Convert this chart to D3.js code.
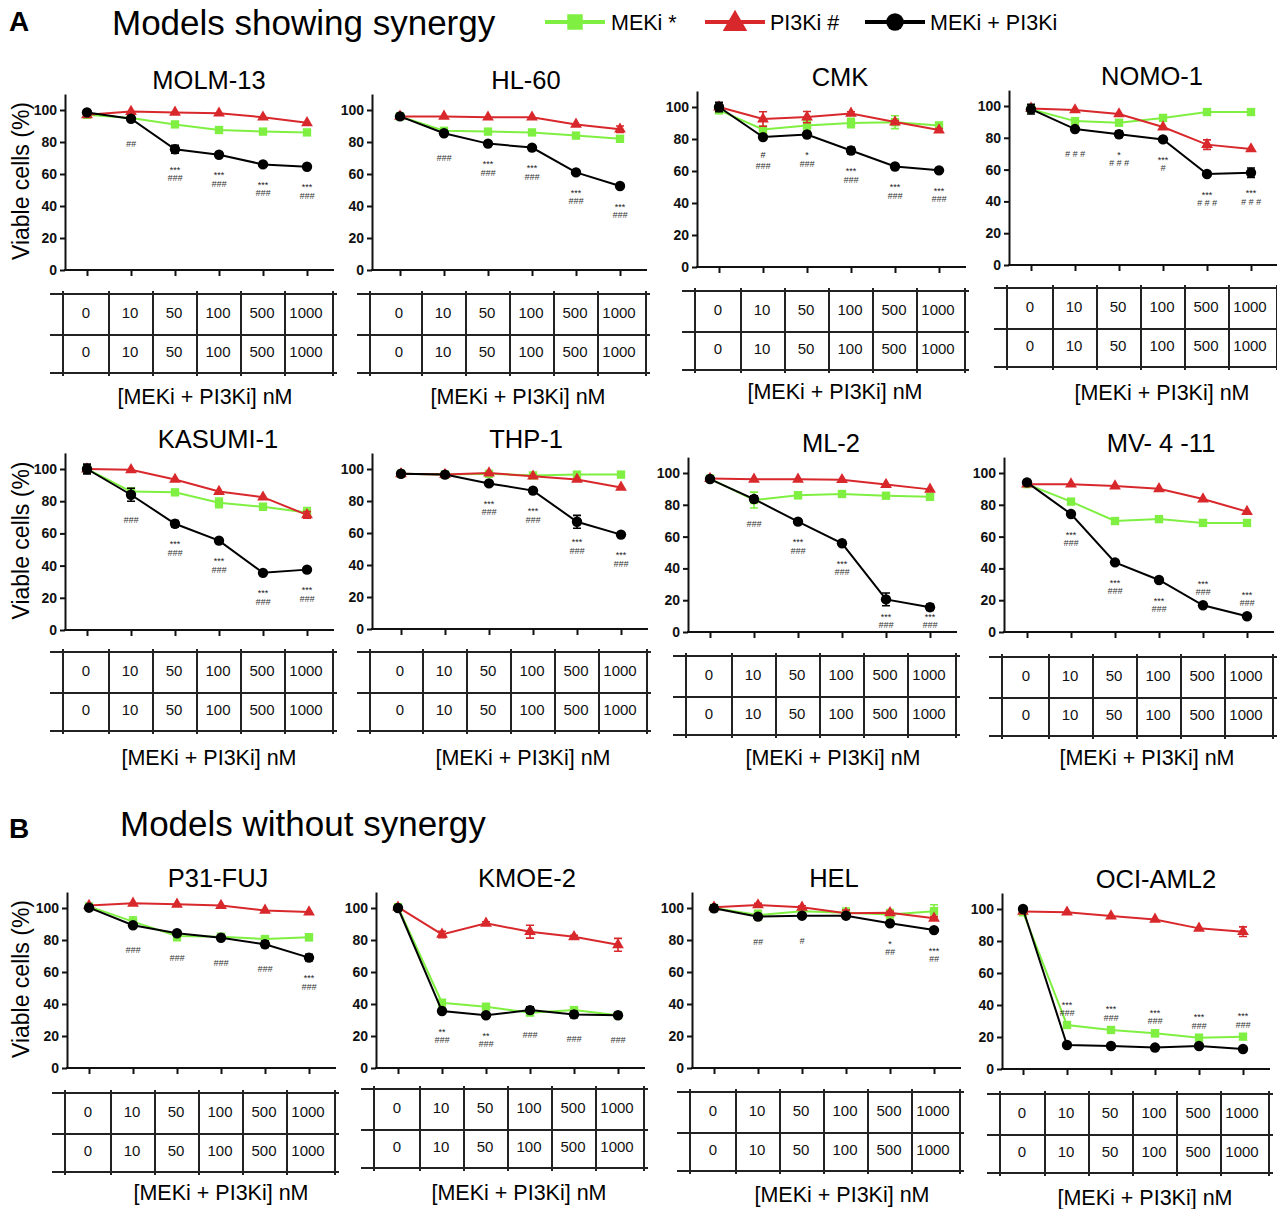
<!DOCTYPE html>
<html>
<head>
<meta charset="utf-8">
<script src="https://cdn.jsdelivr.net/npm/d3@7"></script>
<style>
  body { margin: 0; background: #fff; }
  svg { display: block; font-family: "Liberation Sans", Arial, sans-serif; }
</style>
</head>
<body>
<svg id="chart" width="1277" height="1209"></svg>
<script>
// ---- data ----
const doses = ["0", "10", "50", "100", "500", "1000"];
const yTicks = [0, 20, 40, 60, 80, 100];
const legendLabels = ["MEKi *", "PI3Ki #", "MEKi + PI3Ki"];
const sectionLetters = ["A", "B"];
const sectionTitles = ["Models showing synergy", "Models without synergy"];
const yLabel = "Viable cells (%)";
const xLabel = "[MEKi + PI3Ki] nM";

const cellLines = ["MOLM-13", "HL-60", "CMK", "NOMO-1",
                   "KASUMI-1", "THP-1", "ML-2", "MV- 4 -11",
                   "P31-FUJ", "KMOE-2", "HEL", "OCI-AML2"];

const mekiValues = [
  [97, 95, 91, 87.5, 86.5, 86],
  [96, 87, 86.5, 86, 84, 82],
  [98, 86, 88.5, 90, 90.5, 88.5],
  [98, 90.5, 89.5, 92.5, 96.2, 96.2],
  [100, 86, 85.5, 79, 76.5, 73],
  [97, 96.5, 97, 96, 96.5, 96.5],
  [96.5, 83, 86, 86.8, 85.7, 85],
  [93, 82, 69.8, 71, 68.6, 68.6],
  [101, 91.5, 82.5, 82, 80.6, 81.7],
  [100.5, 40.8, 38.3, 34.6, 36.2, 33],
  [100, 95.6, 98, 97, 96, 98],
  [98, 27.5, 24.4, 22.3, 19.6, 20.2]
];
const pi3kiValues = [
  [97, 99, 98.5, 98, 95.5, 92],
  [96, 96, 95.5, 95.5, 91, 88],
  [100, 92.5, 93.7, 96, 90.6, 85.6],
  [98.5, 97.5, 95, 86.8, 75.7, 73],
  [100, 99.5, 93.5, 86, 82.5, 71.5],
  [97, 96.5, 97.5, 95.5, 93.5, 88.5],
  [96.5, 96, 96, 95.8, 92.7, 89.7],
  [93, 93, 91.8, 90.1, 83.6, 75.7],
  [101.5, 102.9, 102.3, 101.5, 98.5, 97.5],
  [100.5, 83.5, 90.4, 85.2, 82, 77],
  [100.5, 101.9, 100.4, 96.7, 97, 93.6],
  [98.5, 98, 95.6, 93.5, 87.9, 85.8]
];
const comboValues = [
  [98.5, 94.5, 75.5, 72, 66, 64.5],
  [96, 85.5, 79, 76.5, 61, 52.5],
  [100, 81.2, 82.8, 72.8, 62.8, 60.4],
  [98, 85.5, 82.2, 79, 57.2, 58],
  [100, 84, 66, 55.5, 35.5, 37.5],
  [97, 96.5, 91, 86.5, 67, 59],
  [96.2, 83.6, 69.4, 55.8, 20.5, 15.6],
  [94.1, 74.2, 43.8, 32.7, 16.8, 9.9],
  [100.2, 89.2, 84.2, 81.4, 77.3, 69],
  [100, 35.6, 33, 36.2, 33.5, 33],
  [99.8, 94.6, 95.2, 95.2, 90.4, 86.2],
  [100, 15, 14.4, 13.4, 14.4, 12.5]
];

// standard errors (0 = bar hidden by the marker)
const mekiErr = [
  [0, 0, 0, 0, 0, 0], [0, 0, 0, 0, 0, 0], [2, 2, 3, 3, 4, 1], [2, 0, 0, 0, 2, 1],
  [0, 2, 1, 3, 2, 3], [0, 0, 0, 0, 0, 0], [0, 5, 2, 1, 1, 1], [0, 0, 0, 0, 0, 0],
  [1, 3, 3, 2, 2, 2], [0, 0, 0, 0, 0, 0], [0, 3, 1, 3, 3, 4], [0, 0, 0, 2, 1, 1]
];
const pi3kiErr = [
  [0, 0, 0, 0, 0, 0], [0, 0, 0, 0, 0, 2], [0, 4.5, 3.5, 1, 1, 1], [0, 0, 0, 0, 3, 0],
  [0, 0, 0, 0, 0, 2], [0, 0, 0, 0, 0, 0], [0, 0, 0, 0, 0, 0], [0, 0, 0, 0, 0, 0],
  [0, 0, 0, 0, 0, 0], [0, 2, 1, 4, 1, 4], [0, 1, 1, 2, 1, 1], [0, 0, 0, 0, 0, 3]
];
const comboErr = [
  [1, 0, 2.5, 0, 0, 0], [0, 0, 0, 0, 0, 0], [3, 1, 1, 2, 1, 0], [3, 1, 2, 1, 1, 3],
  [3, 4, 2, 0, 0, 0], [0, 0, 0, 0, 4, 1], [0, 2, 0, 0, 4, 2], [0, 0, 0, 0, 0, 0],
  [0, 1, 1, 1, 2, 2], [0, 0, 0, 2, 2, 0], [2, 0, 0, 0, 0, 0], [0, 0, 0, 0, 0, 0]
];

// significance marks: upper line (vs MEKi, *) and lower line (vs PI3Ki, #)
const upperMarks = [
  ["", "", "***", "***", "***", "***"],
  ["", "", "***", "***", "***", "***"],
  ["", "#", "*", "***", "***", "***"],
  ["", "", "*", "***", "***", "***"],
  ["", "", "***", "***", "***", "***"],
  ["", "", "***", "***", "***", "***"],
  ["", "", "***", "***", "***", "***"],
  ["", "***", "***", "***", "***", "***"],
  ["", "", "", "", "", "***"],
  ["", "**", "**", "", "", ""],
  ["", "", "", "", "*", "***"],
  ["", "***", "***", "***", "***", "***"]
];
const lowerMarks = [
  ["", "##", "###", "###", "###", "###"],
  ["", "###", "###", "###", "###", "###"],
  ["", "###", "###", "###", "###", "###"],
  ["", "# # #", "# # #", "#", "# # #", "# # #"],
  ["", "###", "###", "###", "###", "###"],
  ["", "", "###", "###", "###", "###"],
  ["", "###", "###", "###", "###", "###"],
  ["", "###", "###", "###", "###", "###"],
  ["", "###", "###", "###", "###", "###"],
  ["", "###", "###", "###", "###", "###"],
  ["", "##", "#", "", "##", "##"],
  ["", "###", "###", "###", "###", "###"]
];

// ---- layout (pixel geometry of each small panel) ----
const panelLayout = [
  {ax: 65,   t0: 87,   y0: 270,  y100: 110, n1: 313,  tx: 209,  lx: 205,  ly: 397},
  {ax: 372,  t0: 400,  y0: 270,  y100: 110, n1: 313,  tx: 526,  lx: 518,  ly: 397},
  {ax: 697,  t0: 719,  y0: 267,  y100: 107, n1: 310,  tx: 840,  lx: 835,  ly: 392},
  {ax: 1009, t0: 1031, y0: 265,  y100: 106, n1: 307,  tx: 1152, lx: 1162, ly: 393},
  {ax: 65,   t0: 87,   y0: 630,  y100: 469, n1: 671,  tx: 218,  lx: 209,  ly: 758},
  {ax: 372,  t0: 401,  y0: 629,  y100: 469, n1: 671,  tx: 526,  lx: 523,  ly: 758},
  {ax: 688,  t0: 710,  y0: 632,  y100: 473, n1: 675,  tx: 831,  lx: 833,  ly: 758},
  {ax: 1004, t0: 1027, y0: 632,  y100: 473, n1: 676,  tx: 1161, lx: 1147, ly: 758, aboveAt: [4, 5]},
  {ax: 67,   t0: 89,   y0: 1068, y100: 908, n1: 1112, tx: 218,  lx: 221,  ly: 1193},
  {ax: 376,  t0: 398,  y0: 1068, y100: 908, n1: 1108, tx: 527,  lx: 519,  ly: 1193},
  {ax: 692,  t0: 714,  y0: 1068, y100: 908, n1: 1111, tx: 834,  lx: 842,  ly: 1195},
  {ax: 1002, t0: 1023, y0: 1069, y100: 909, n1: 1113, tx: 1156, lx: 1145, ly: 1198, marksAbove: true}
];

const green = "#7ff042", red = "#d8282c", black = "#000";
const series = [
  {values: mekiValues, err: mekiErr, color: green, symbol: d3.symbolSquare, size: 70},
  {values: pi3kiValues, err: pi3kiErr, color: red, symbol: d3.symbolTriangle, size: 60},
  {values: comboValues, err: comboErr, color: black, symbol: d3.symbolCircle, size: 85}
];

const svg = d3.select("#chart");

// section headings
[[31, 35], [838, 836]].forEach(([ly, ty], i) => {
  svg.append("text").attr("x", 9).attr("y", ly)
    .attr("font-size", 28).attr("font-weight", "bold").text(sectionLetters[i]);
  svg.append("text").attr("x", i === 0 ? 112 : 120).attr("y", ty)
    .attr("font-size", 35).text(sectionTitles[i]);
});

// legend
const legendX = [545, 705, 865];
series.forEach((s, i) => {
  const lg = svg.append("g").attr("transform", `translate(${legendX[i]},22)`);
  lg.append("line").attr("x1", 0).attr("x2", 60).attr("stroke", s.color).attr("stroke-width", 4);
  lg.append("path").attr("transform", `translate(30,${i === 1 ? 2 : 0})`)
    .attr("d", d3.symbol(s.symbol, i === 1 ? 260 : 240)()).attr("fill", s.color);
  lg.append("text").attr("x", i === 0 ? 66 : 65).attr("y", 8).attr("font-size", 21.5)
    .text(legendLabels[i]);
});

cellLines.forEach((name, p) => {
  const L = panelLayout[p];
  const g = svg.append("g");
  const x = d3.scalePoint().domain(doses).range([L.t0, L.t0 + 5 * 44]);
  const y = d3.scaleLinear().domain([0, 110]).range([L.y0, L.y0 - 1.1 * (L.y0 - L.y100)]);
  const xEnd = x("1000") + 27;

  // title
  g.append("text").attr("x", L.tx).attr("y", L.y100 - 21).attr("text-anchor", "middle")
    .attr("font-size", 25.5).text(name);

  // y axis
  const ya = g.append("g").attr("transform", `translate(${L.ax},0)`)
    .call(d3.axisLeft(y).tickValues(yTicks).tickSize(5).tickSizeOuter(0).tickPadding(3));
  ya.selectAll("path, line").attr("stroke", "#111").attr("stroke-width", 2);
  ya.selectAll("text").attr("font-size", 14).attr("font-weight", "bold")
    .attr("font-family", "'Liberation Sans', Arial, sans-serif").attr("fill", "#111");

  // x axis
  g.append("line").attr("x1", L.ax - 1).attr("x2", xEnd).attr("y1", L.y0).attr("y2", L.y0)
    .attr("stroke", "#111").attr("stroke-width", 2);
  const xa = g.append("g").attr("transform", `translate(0,${L.y0})`)
    .call(d3.axisBottom(x).tickSize(6).tickFormat(""));
  xa.select(".domain").remove();
  xa.selectAll("line").attr("stroke", "#111").attr("stroke-width", 2);

  if (p % 4 === 0) {
    g.append("text")
      .attr("transform", `translate(29,${(L.y0 + L.y100) / 2 - 9}) rotate(-90)`)
      .attr("text-anchor", "middle").attr("font-size", 23).text(yLabel);
  }

  // series: lines, error bars, markers
  series.forEach(s => {
    const vals = s.values[p], errs = s.err[p];
    g.append("path").datum(vals)
      .attr("d", d3.line().x((d, i) => x(doses[i])).y(d => y(d)))
      .attr("fill", "none").attr("stroke", s.color).attr("stroke-width", 2);
    vals.forEach((v, i) => {
      const e = errs[i];
      if (!e) return;
      const cx = x(doses[i]);
      g.append("path")
        .attr("d", `M${cx},${y(v - e)}V${y(v + e)}M${cx - 4},${y(v - e)}H${cx + 4}M${cx - 4},${y(v + e)}H${cx + 4}`)
        .attr("stroke", s.color).attr("stroke-width", 1.6).attr("fill", "none");
    });
    g.selectAll(null).data(vals).enter().append("path")
      .attr("transform", (d, i) => `translate(${x(doses[i])},${y(d)})`)
      .attr("d", d3.symbol(s.symbol, s.size)()).attr("fill", s.color);
  });

  // significance marks (baselines of the two lines)
  doses.forEach((dose, i) => {
    const up = upperMarks[p][i], low = lowerMarks[p][i];
    if (!up && !low) return;
    let bUp, bLow;
    if (L.marksAbove) {
      bLow = y(mekiValues[p][i]) - 9;
    } else if (L.aboveAt && L.aboveAt.includes(i)) {
      bLow = y(comboValues[p][i]) - 10;
    } else {
      const yy = y(comboValues[p][i]);
      bLow = Math.min(up ? yy + 32 : yy + 28, L.y0 - 4);
    }
    bUp = bLow - 11;
    const cx = x(dose);
    if (up) g.append("text").attr("x", cx).attr("y", bUp + (up.includes("*") ? 2.5 : 0))
      .attr("text-anchor", "middle").attr("font-size", 9).attr("fill", "#222").text(up);
    if (low) g.append("text").attr("x", cx).attr("y", bLow)
      .attr("text-anchor", "middle").attr("font-size", 9).attr("fill", "#333")
      .attr("font-style", "italic").text(low);
  });

  // dose table
  const top = L.n1 - 19, mid = L.n1 + 22, bot = L.n1 + 60;
  const vx = [L.ax - 2].concat(doses.slice(0, 5).map(d => x(d) + 22), [x("1000") + 26]);
  const tg = g.append("g").attr("stroke", "#222").attr("stroke-width", 2);
  [top, mid, bot].forEach(yy => tg.append("line")
    .attr("x1", L.ax - 15).attr("x2", vx[6] + 4).attr("y1", yy).attr("y2", yy));
  vx.forEach(xx => tg.append("line").attr("x1", xx).attr("x2", xx)
    .attr("y1", top - 3).attr("y2", bot + 3));
  [L.n1, L.n1 + 39].forEach(ty => {
    g.selectAll(null).data(doses).enter().append("text")
      .attr("x", d => x(d) - 1).attr("y", ty + 5).attr("text-anchor", "middle")
      .attr("font-size", 15).attr("fill", "#111").text(d => d);
  });

  g.append("text").attr("x", L.lx).attr("y", L.ly + 7).attr("text-anchor", "middle")
    .attr("font-size", 21.5).text(xLabel);
});
</script>
</body>
</html>
